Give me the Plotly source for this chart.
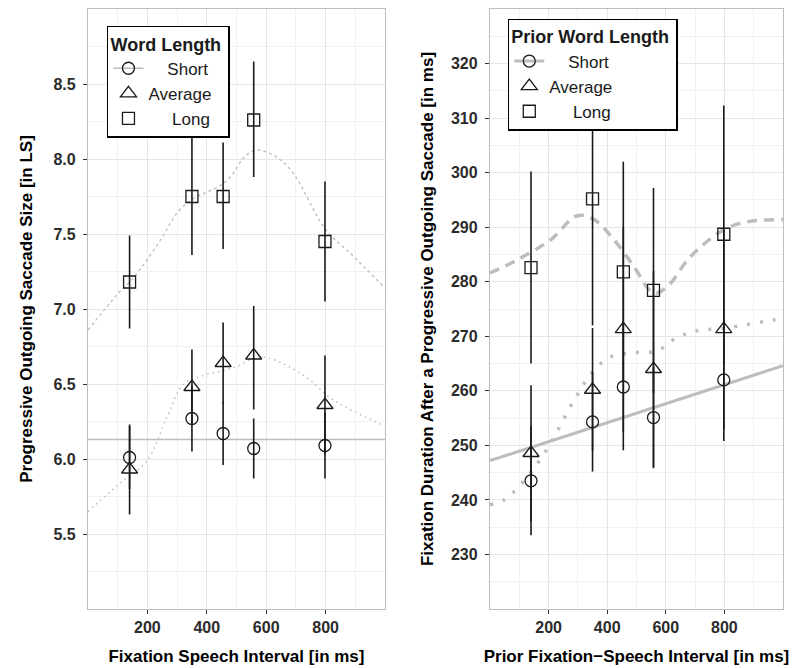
import plotly.graph_objects as go

# ---------------- data ----------------
interval = [140, 350, 455, 558, 798]

# Left panel: progressive outgoing saccade size [LS]
size_short = [6.01, 6.27, 6.17, 6.07, 6.09]
size_short_lo = [5.80, 6.05, 5.96, 5.87, 5.87]
size_short_hi = [6.23, 6.49, 6.38, 6.27, 6.31]
size_avg = [5.93, 6.48, 6.64, 6.69, 6.36]
size_avg_lo = [5.63, 6.23, 6.37, 6.33, 6.03]
size_avg_hi = [6.22, 6.73, 6.91, 7.02, 6.69]
size_long = [7.18, 7.75, 7.75, 8.26, 7.45]
size_long_lo = [6.87, 7.36, 7.40, 7.88, 7.05]
size_long_hi = [7.49, 8.14, 8.11, 8.65, 7.85]

# Left panel fitted curves
fit_short_x = [0, 1000]
fit_short_y = [6.13, 6.13]
fit_avg_x = [0, 97, 199, 266, 322, 379, 491, 582, 717, 829, 1000]
fit_avg_y = [5.65, 5.82, 5.99, 6.28, 6.50, 6.55, 6.61, 6.68, 6.57, 6.39, 6.22]
fit_long_x = [0, 100, 154, 244, 300, 350, 451, 491, 525, 569, 637, 693, 800, 884, 1000]
fit_long_y = [6.86, 7.10, 7.21, 7.46, 7.64, 7.73, 7.83, 7.91, 8.01, 8.06, 8.01, 7.90, 7.53, 7.37, 7.14]

# Right panel: fixation duration [ms]
dur_short = [243.5, 254.3, 260.7, 255.1, 262.0]
dur_short_lo = [233.5, 245.2, 249.1, 245.8, 250.8]
dur_short_hi = [253.5, 263.4, 272.3, 264.4, 273.2]
dur_avg = [248.6, 260.2, 271.3, 264.0, 271.3]
dur_avg_lo = [236.0, 249.0, 252.5, 246.0, 253.0]
dur_avg_hi = [261.0, 271.5, 290.0, 282.0, 289.5]
dur_long = [282.6, 295.2, 281.8, 278.4, 288.7]
dur_long_lo = [265.0, 272.0, 261.6, 259.6, 265.0]
dur_long_hi = [300.2, 318.4, 302.0, 297.2, 312.3]

# Right panel fitted curves
dfit_short_x = [0, 1000]
dfit_short_y = [247.2, 264.6]
dfit_avg_x = [0, 48, 105, 196, 286, 354, 411, 491, 570, 627, 695, 800, 968, 1000]
dfit_avg_y = [239.1, 240.0, 242.8, 249.4, 258.2, 263.7, 266.2, 267.0, 267.3, 269.4, 270.9, 271.5, 273.0, 273.3]
dfit_long_x = [0, 93, 207, 298, 355, 423, 491, 559, 605, 684, 797, 877, 1000]
dfit_long_y = [281.6, 284.0, 287.7, 292.1, 291.4, 287.7, 282.8, 277.9, 279.1, 284.6, 289.5, 291.0, 291.4]

group_names = ["Short", "Average", "Long"]
legend_labels = ["\u00a0\u00a0\u00a0\u00a0Short", "Average", "\u00a0\u00a0\u00a0\u00a0\u00a0Long"]
symbols = ["circle-open", "triangle-up-open", "square-open"]
sizes = [12, 14, 12]

xticks = [200, 400, 600, 800]
xminor = [100, 300, 500, 700, 900]
yticks_l = [5.5, 6.0, 6.5, 7.0, 7.5, 8.0, 8.5]
yticks_l_text = ["5.5", "6.0", "6.5", "7.0", "7.5", "8.0", "8.5"]
yminor_l = [5.25, 5.75, 6.25, 6.75, 7.25, 7.75, 8.25, 8.75]
yticks_r = [230, 240, 250, 260, 270, 280, 290, 300, 310, 320]
yminor_r = [225, 235, 245, 255, 265, 275, 285, 295, 305, 315, 325]

FONT = "Liberation Sans, Arial, sans-serif"
INK = "#1a1a1a"
FIT = "#bdbdbd"

fig = go.Figure()

# ---- left fitted curves ----
fig.add_trace(go.Scatter(x=fit_short_x, y=fit_short_y, mode="lines",
                         line=dict(color=FIT, width=1.3), showlegend=False,
                         xaxis="x", yaxis="y", hoverinfo="skip"))
fig.add_trace(go.Scatter(x=fit_avg_x, y=fit_avg_y, mode="lines", line_shape="spline",
                         line=dict(color="#b5b5b5", width=1.4, dash="1.4px,4px"), showlegend=False,
                         xaxis="x", yaxis="y", hoverinfo="skip"))
fig.add_trace(go.Scatter(x=fit_long_x, y=fit_long_y, mode="lines", line_shape="spline",
                         line=dict(color=FIT, width=1.3, dash="3px,3px"), showlegend=False,
                         xaxis="x", yaxis="y", hoverinfo="skip"))

# ---- right fitted curves ----
fig.add_trace(go.Scatter(x=dfit_short_x, y=dfit_short_y, mode="lines",
                         line=dict(color=FIT, width=3), showlegend=False,
                         xaxis="x2", yaxis="y2", hoverinfo="skip"))
fig.add_trace(go.Scatter(x=dfit_avg_x, y=dfit_avg_y, mode="lines", line_shape="spline",
                         line=dict(color=FIT, width=3.5, dash="3px,10px"), showlegend=False,
                         xaxis="x2", yaxis="y2", hoverinfo="skip"))
fig.add_trace(go.Scatter(x=dfit_long_x, y=dfit_long_y, mode="lines", line_shape="spline",
                         line=dict(color=FIT, width=3.5, dash="10px,7px"), showlegend=False,
                         xaxis="x2", yaxis="y2", hoverinfo="skip"))

left_sets = [(size_short, size_short_lo, size_short_hi),
             (size_avg, size_avg_lo, size_avg_hi),
             (size_long, size_long_lo, size_long_hi)]
right_sets = [(dur_short, dur_short_lo, dur_short_hi),
              (dur_avg, dur_avg_lo, dur_avg_hi),
              (dur_long, dur_long_lo, dur_long_hi)]

for axes, sets in ((("x", "y"), left_sets), (("x2", "y2"), right_sets)):
    for (m, lo, hi), sym, sz, nm in zip(sets, symbols, sizes, group_names):
        fig.add_trace(go.Scatter(
            x=interval, y=m, mode="markers", name=nm, showlegend=False,
            xaxis=axes[0], yaxis=axes[1],
            marker=dict(symbol=sym, size=sz, color=INK, line=dict(color=INK, width=1.3)),
            error_y=dict(type="data", symmetric=False,
                         array=[h - v for h, v in zip(hi, m)],
                         arrayminus=[v - l for l, v in zip(lo, m)],
                         color=INK, thickness=1.6, width=0)))

# ---- legend entries ----
for leg, axes, lw in (("legend", ("x", "y"), 1.3), ("legend2", ("x2", "y2"), 3)):
    for i, (lab, sym, sz) in enumerate(zip(legend_labels, symbols, sizes)):
        fig.add_trace(go.Scatter(
            x=[None], y=[None], name=lab, legend=leg,
            xaxis=axes[0], yaxis=axes[1],
            mode="lines+markers" if i == 0 else "markers",
            line=dict(color=FIT, width=lw),
            marker=dict(symbol=sym, size=sz, color=INK, line=dict(color=INK, width=1.3))))

grid_major = "#e6e6e6"
grid_minor = "#f1f1f1"

def xaxis_style(domain, anchor, title):
    return dict(domain=domain, anchor=anchor, range=[0, 1000], automargin=False,
                tickmode="array", tickvals=xticks, ticktext=[str(v) for v in xticks],
                showgrid=True, gridcolor=grid_major, gridwidth=1,
                minor=dict(tickmode="array", tickvals=xminor, showgrid=True,
                           gridcolor=grid_minor, gridwidth=1),
                showline=True, mirror=True, linecolor="#bdbdbd", linewidth=1.3,
                ticks="outside", ticklen=4, tickcolor="#333333", tickwidth=1,
                tickfont=dict(family=FONT, size=16, color="#2b2b2b", weight="bold"),
                title=dict(text=title, standoff=14,
                           font=dict(family=FONT, size=17, color="black", weight="bold")),
                zeroline=False)

def yaxis_style(domain, anchor, rng, ticks, tick_text, minor_vals, title, standoff):
    return dict(domain=domain, anchor=anchor, range=rng, automargin=False,
                tickmode="array", tickvals=ticks, ticktext=tick_text,
                showgrid=True, gridcolor=grid_major, gridwidth=1,
                minor=dict(tickmode="array", tickvals=minor_vals, showgrid=True,
                           gridcolor=grid_minor, gridwidth=1),
                showline=True, mirror=True, linecolor="#bdbdbd", linewidth=1.3,
                ticks="outside", ticklen=4, tickcolor="#333333", tickwidth=1,
                ticklabelstandoff=4,
                tickfont=dict(family=FONT, size=16, color="#2b2b2b", weight="bold"),
                title=dict(text=title, standoff=standoff,
                           font=dict(family=FONT, size=17, color="black", weight="bold")),
                zeroline=False)

legend_common = dict(bgcolor="white", bordercolor="black", borderwidth=1.5,
                     font=dict(family=FONT, size=17, color="#1a1a1a"),
                     xanchor="left", yanchor="top", tracegroupgap=0,
                     itemclick=False, itemdoubleclick=False)

fig.update_layout(
    width=797, height=668,
    margin=dict(l=88, r=14, t=9, b=59, autoexpand=False),
    paper_bgcolor="white", plot_bgcolor="white",
    font=dict(family=FONT),
    xaxis=xaxis_style([0, 0.4273], "y", "Fixation Speech Interval [in ms]"),
    yaxis=yaxis_style([0, 1], "x", [5.0, 9.0], yticks_l, yticks_l_text, yminor_l,
                      "Progressive Outgoing Saccade Size [in LS]", 16),
    xaxis2=xaxis_style([0.5784, 1], "y2", "Prior Fixation\u2212Speech Interval [in ms]"),
    yaxis2=yaxis_style([0, 1], "x2", [220, 330], yticks_r, [str(v) for v in yticks_r], yminor_r,
                       "Fixation Duration After a Progressive Outgoing Saccade [in ms]", 12),
    legend=dict(x=0.0273, y=0.972,
                title=dict(text="Word Length\u00a0", font=dict(family=FONT, size=18, weight="bold")),
                **legend_common),
    legend2=dict(x=0.604, y=0.984,
                 title=dict(text="Prior Word Length\u00a0", font=dict(family=FONT, size=18, weight="bold")),
                 **legend_common),
)

fig.write_html("out.html")
